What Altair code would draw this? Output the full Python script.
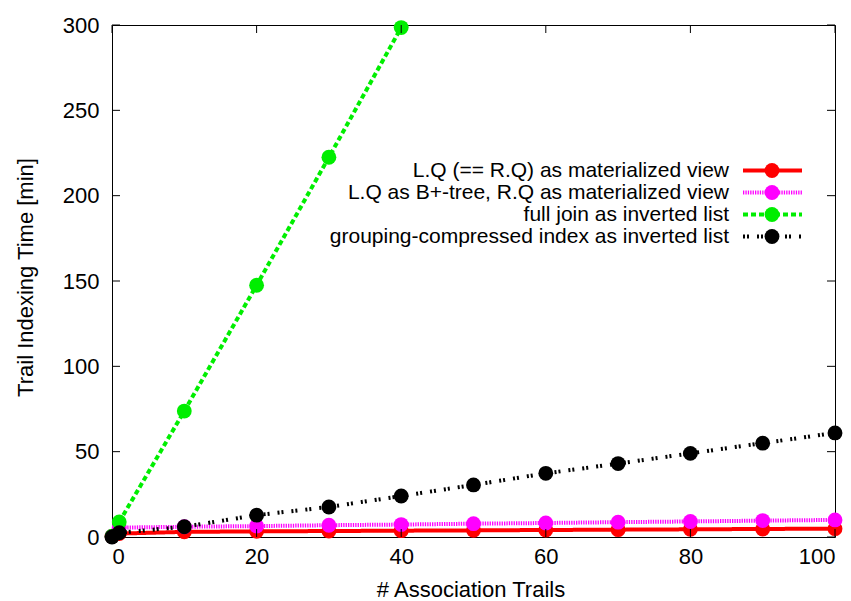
import altair as alt
import pandas as pd

# ---- data ----
series_names = [
    "L.Q (== R.Q) as materialized view",
    "L.Q as B+-tree, R.Q as materialized view",
    "full join as inverted list",
    "grouping-compressed index as inverted list",
]
x_vals = [0, 1, 10, 20, 30, 40, 50, 60, 70, 80, 90, 100]
red_vals = [0.3, 2.0, 3.0, 3.3, 3.5, 3.7, 3.9, 4.1, 4.3, 4.5, 4.7, 4.9]
magenta_vals = [0.5, 5.5, 6.0, 6.4, 6.9, 7.3, 7.8, 8.2, 8.7, 9.1, 9.6, 10.0]
green_x = [0, 1, 10, 20, 30, 40]
green_vals = [0.5, 8.8, 73.8, 147.5, 222.5, 298.5]
black_vals = [0.0, 2.5, 6.0, 12.8, 17.6, 24.0, 30.5, 37.3, 43.0, 49.0, 55.0, 61.0]
y_ticks = [0, 50, 100, 150, 200, 250, 300]
x_ticks = [0, 20, 40, 60, 80, 100]

series_x = [x_vals, x_vals, green_x, x_vals]
series_y = [red_vals, magenta_vals, green_vals, black_vals]

# ---- styles ----
colors = ["#ff0000", "#ff00ff", "#00ee00", "#000000"]
dashes = [[1, 0], [1.3, 1.1], [5, 3], [2, 2, 2, 8]]
widths = [4, 4, 4, 4]
PT = 220

W, H = 723, 512
FONT = "Liberation Sans"
FS = 22
LFS = 21

x_scale = alt.Scale(domain=[0, 100], nice=False, zero=False)
y_scale = alt.Scale(domain=[0, 300], nice=False, zero=False)

x_axis = alt.Axis(
    values=x_ticks, title="# Association Trails", domain=False, ticks=False,
    grid=False, labelFontSize=FS, labelFont=FONT, labelColor="black",
    labelPadding=9, titleFontSize=FS, titleFont=FONT, titleFontWeight="normal",
    titleColor="black", titleX=W / 2 - 3, titleY=59, titleBaseline="alphabetic",
    titleAlign="center",
)
y_axis = alt.Axis(
    values=y_ticks, title="Trail Indexing Time [min]", domain=False, ticks=False,
    grid=False, labelFontSize=FS, labelFont=FONT, labelColor="black",
    labelPadding=13, titleFontSize=FS, titleFont=FONT, titleFontWeight="normal",
    titleColor="black", titleX=-87, titleY=252, titleAngle=270,
    titleBaseline="middle", titleAlign="center",
)

X = alt.X("x:Q", scale=x_scale, axis=x_axis)
Y = alt.Y("y:Q", scale=y_scale, axis=y_axis)

layers = []
for i in range(4):
    df = pd.DataFrame({"x": series_x[i], "y": series_y[i]})
    base = alt.Chart(df)
    layers.append(
        base.mark_line(color=colors[i], strokeDash=dashes[i], strokeWidth=widths[i])
        .encode(x=X, y=Y)
    )
    layers.append(
        base.mark_point(filled=True, color=colors[i], size=PT, opacity=1, shape="circle")
        .encode(x=X, y=Y)
    )

# inward ticks (gnuplot style) on all four sides
TL = 8
ydf = pd.DataFrame({"y": y_ticks})
xdf = pd.DataFrame({"x": x_ticks})
layers.append(alt.Chart(ydf).mark_rule(color="black", strokeWidth=1).encode(
    y=Y, x=alt.value(0), x2=alt.value(TL)))
layers.append(alt.Chart(ydf).mark_rule(color="black", strokeWidth=1).encode(
    y=Y, x=alt.value(W - TL), x2=alt.value(W)))
layers.append(alt.Chart(xdf).mark_rule(color="black", strokeWidth=1).encode(
    x=X, y=alt.value(H - TL), y2=alt.value(H)))
layers.append(alt.Chart(xdf).mark_rule(color="black", strokeWidth=1).encode(
    x=X, y=alt.value(0), y2=alt.value(TL)))

# manual legend: labels right-aligned, sample to the right
one = alt.Data(values=[{"a": 0}])
for i in range(4):
    yy = 145.5 + i * 22
    layers.append(alt.Chart(one).mark_text(
        align="right", baseline="middle", fontSize=LFS, font=FONT, color="black",
        text=series_names[i]).encode(x=alt.value(617), y=alt.value(yy)))
    layers.append(alt.Chart(one).mark_rule(
        color=colors[i], strokeDash=dashes[i], strokeWidth=widths[i]).encode(
        x=alt.value(631), x2=alt.value(690), y=alt.value(yy)))
    layers.append(alt.Chart(one).mark_point(
        filled=True, color=colors[i], size=PT, opacity=1, shape="circle").encode(
        x=alt.value(660), y=alt.value(yy)))

chart = alt.layer(*layers).properties(
    width=W, height=H,
    autosize=alt.AutoSizeParams(type="none"),
    padding={"left": 112, "top": 25, "right": 16, "bottom": 64},
    background="white",
).configure_view(stroke="black", strokeWidth=1)

chart.save("out.html", embed_options={"renderer": "svg", "actions": False})
